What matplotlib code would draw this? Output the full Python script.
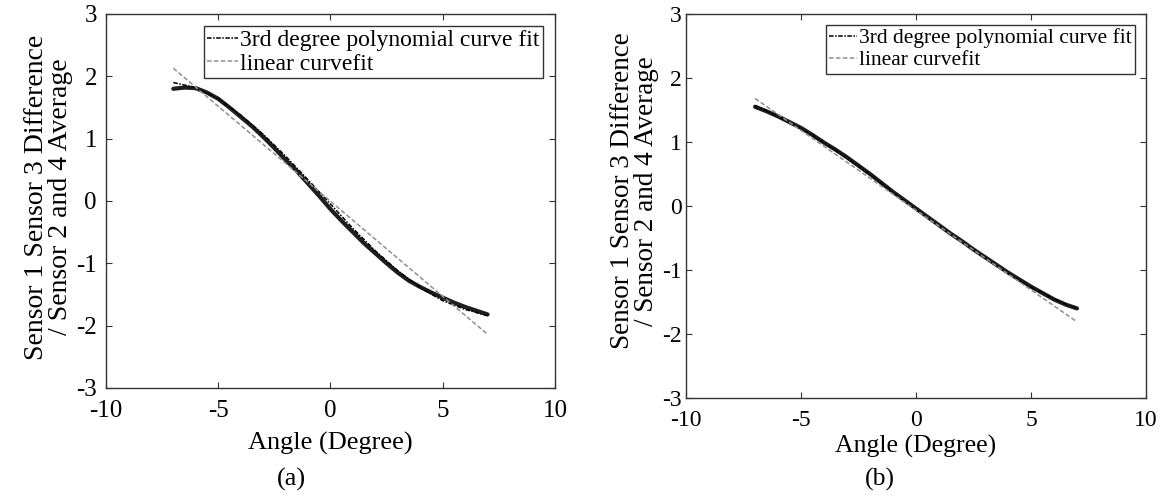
import numpy as np
import matplotlib
matplotlib.use("Agg")
import matplotlib.pyplot as plt

plt.rcParams['font.family'] = ['Liberation Serif', 'DejaVu Serif']
plt.rcParams['axes.unicode_minus'] = False

# (a) measured ratio, half-degree steps
angle_a = [-7, -6.5, -6, -5.5, -5, -4.5, -4, -3.5, -3, -2.5, -2, -1.5, -1, -0.5,
           0, 0.5, 1, 1.5, 2, 2.5, 3, 3.5, 4, 4.5, 5, 5.5, 6, 6.5, 7]
meas_a = [1.80, 1.82, 1.81, 1.74, 1.64, 1.50, 1.35, 1.20, 1.03, 0.85, 0.66, 0.48,
          0.28, 0.08, -0.13, -0.32, -0.50, -0.68, -0.84, -1.00, -1.15, -1.28,
          -1.38, -1.47, -1.55, -1.63, -1.70, -1.76, -1.82]
cubic_x_a = [-7, -6, -5, -4, -3, -2, -1, 0, 1, 2, 3, 4, 5, 6, 7]
cubic_a = [1.90, 1.82, 1.64, 1.38, 1.07, 0.72, 0.34, -0.05, -0.44, -0.80,
           -1.12, -1.39, -1.60, -1.74, -1.84]
linear_x_a = [-7, 7]
linear_a = [2.13, -2.14]

# (b) measured ratio, half-degree steps
angle_b = angle_a
meas_b = [1.55, 1.48, 1.40, 1.31, 1.22, 1.11, 0.99, 0.88, 0.76, 0.63, 0.50, 0.36,
          0.22, 0.09, -0.04, -0.17, -0.30, -0.43, -0.55, -0.68, -0.80, -0.92,
          -1.04, -1.15, -1.26, -1.36, -1.46, -1.54, -1.60]
cubic_x_b = [-7, -6, -5, -4, -3, -2, -1, 0, 1, 2, 3, 4, 5, 6, 7]
cubic_b = [1.57, 1.40, 1.21, 0.99, 0.75, 0.49, 0.21, -0.05, -0.31, -0.56,
           -0.81, -1.05, -1.27, -1.45, -1.61]
linear_x_b = [-7, 7]
linear_b = [1.68, -1.81]

ylab = "Sensor 1 Sensor 3 Difference\n/ Sensor 2 and 4 Average"

fig = plt.figure(figsize=(11.63, 4.98), dpi=100)
axa = fig.add_axes([0.0911, 0.2209, 0.3861, 0.751])
axb = fig.add_axes([0.5899, 0.2008, 0.3955, 0.7711])

panels = [
    (axa, angle_a, meas_a, cubic_x_a, cubic_a, linear_x_a, linear_a, "(a)",
     18, 6.5, 9, 20, 17, (-0.0735, 0.511), -0.118, (0.412, -0.214)),
    (axb, angle_b, meas_b, cubic_x_b, cubic_b, linear_x_b, linear_b, "(b)",
     17, 3, 8.5, 19.5, 15.5, (-0.0587, 0.539), -0.097, (0.4217, -0.183)),
]

for (ax, ax_x, ax_y, cx, cy, lx, ly, tag, tsize, ypad, xpad, lsize, legsize,
     ylc, xly, tagpos) in panels:
    ax.plot(ax_x, ax_y, color='#1e1e1e', lw=3.0, solid_capstyle='round',
            solid_joinstyle='round', zorder=3)
    c_line, = ax.plot(cx, cy, color='black', lw=1.1, ls=(0, (3, 1, 1, 1)), zorder=4)
    l_line, = ax.plot(lx, ly, color='#8f8f8f', lw=1.1, ls=(0, (3, 1.5)), zorder=5)

    ax.set_xlim(-10, 10)
    ax.set_ylim(-3, 3)
    ax.set_xticks([-10, -5, 0, 5, 10])
    ax.set_yticks([-3, -2, -1, 0, 1, 2, 3])
    ax.tick_params(direction='in', top=True, right=True, length=4, width=0.8,
                   colors='#333333', labelcolor='black', labelsize=tsize)
    ax.tick_params(axis='y', pad=ypad)
    ax.tick_params(axis='x', pad=xpad)
    for s in ax.spines.values():
        s.set_color('#333333')
        s.set_linewidth(1.0)

    ax.set_ylabel(ylab, fontsize=lsize, linespacing=0.95)
    ax.yaxis.set_label_coords(*ylc)
    ax.set_xlabel("Angle (Degree)", fontsize=lsize - 1)
    ax.xaxis.set_label_coords(0.5, xly)
    ax.text(tagpos[0], tagpos[1], tag, transform=ax.transAxes, ha='center',
            va='top', fontsize=lsize - 1)

    leg = ax.legend([c_line, l_line],
                    ["3rd degree polynomial curve fit", "linear curvefit"],
                    loc='upper right', fontsize=legsize, fancybox=False,
                    handlelength=1.3, handletextpad=0.1, labelspacing=0.1,
                    borderpad=0.15, borderaxespad=0.5, framealpha=1)
    leg.get_frame().set_edgecolor('#333333')
    leg.get_frame().set_linewidth(1.0)

fig.savefig("out.png", dpi=100)
